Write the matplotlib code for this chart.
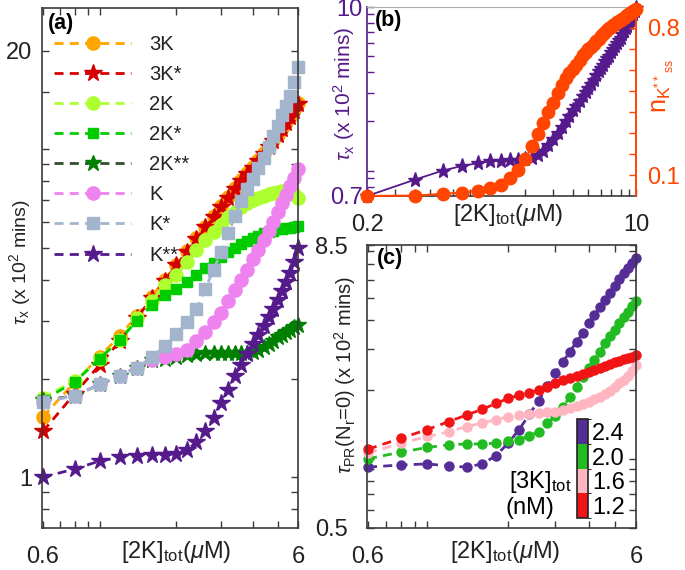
import matplotlib
matplotlib.use('Agg')
import matplotlib.pyplot as plt
import matplotlib as mpl
from matplotlib.colors import ListedColormap, BoundaryNorm
from matplotlib.ticker import FixedLocator, FixedFormatter, NullLocator

plt.rcParams['font.family'] = ['Liberation Sans', 'DejaVu Sans']
plt.rcParams['mathtext.fontset'] = 'custom'
plt.rcParams['mathtext.rm'] = 'Liberation Sans'
plt.rcParams['mathtext.it'] = 'Liberation Sans:italic'
plt.rcParams['mathtext.bf'] = 'Liberation Sans:bold'
plt.rcParams['lines.scale_dashes'] = False

# ---------------- data ----------------
# panel (a)
x_a = [0.6, 0.8, 1.0, 1.2, 1.4, 1.6, 1.8, 2.0, 2.2, 2.4, 2.6, 2.8, 3.0, 3.2,
       3.4, 3.6, 3.8, 4.0, 4.2, 4.4, 4.6, 4.8, 5.0, 5.2, 5.4, 5.6, 5.8, 6.0]
tau_3K = [1.53, 1.95, 2.33, 2.70, 3.10, 3.55, 4.00, 4.45, 4.90, 5.35, 5.80, 6.25, 6.70, 7.15,
          7.60, 8.05, 8.45, 8.85, 9.30, 9.75, 10.2, 10.7, 11.1, 11.6, 12.1, 12.6, 13.2, 13.9]
tau_3Ks = [1.38, 1.80, 2.20, 2.60, 3.05, 3.52, 3.98, 4.43, 4.88, 5.33, 5.78, 6.22, 6.66, 7.10,
           7.55, 8.00, 8.40, 8.80, 9.25, 9.70, 10.15, 10.6, 11.05, 11.55, 12.05, 12.55, 13.1, 13.8]
tau_2K = [1.75, 1.97, 2.30, 2.62, 3.05, 3.45, 3.85, 4.15, 4.55, 4.95, 5.30, 5.60, 5.90, 6.20,
          6.45, 6.65, 6.85, 7.00, 7.10, 7.20, 7.30, 7.35, 7.40, 7.45, 7.45, 7.40, 7.30, 7.10]
tau_2Ks = [1.72, 1.95, 2.30, 2.62, 3.00, 3.35, 3.60, 3.75, 3.95, 4.15, 4.35, 4.50, 4.70, 4.85,
           5.00, 5.15, 5.25, 5.35, 5.45, 5.55, 5.60, 5.65, 5.70, 5.72, 5.75, 5.77, 5.80, 5.82]
tau_2Kss = [1.72, 1.77, 1.92, 2.04, 2.16, 2.28, 2.30, 2.33, 2.36, 2.38, 2.39, 2.39, 2.39, 2.39,
            2.39, 2.39, 2.40, 2.41, 2.44, 2.49, 2.55, 2.61, 2.67, 2.72, 2.77, 2.82, 2.87, 2.92]
tau_K = [1.70, 1.77, 1.92, 2.04, 2.16, 2.28, 2.32, 2.37, 2.45, 2.60, 2.77, 2.97, 3.18, 3.45,
         3.72, 4.00, 4.30, 4.62, 4.95, 5.30, 5.65, 6.02, 6.42, 6.84, 7.28, 7.74, 8.20, 8.70]
tau_Ks = [1.70, 1.77, 1.92, 2.04, 2.16, 2.32, 2.51, 2.73, 2.97, 3.25, 3.75, 4.30, 4.85, 5.55,
          6.25, 6.95, 7.55, 8.15, 8.75, 9.40, 10.2, 11.0, 11.8, 12.7, 13.6, 14.6, 16.0, 17.8]
tau_Kss = [1.00, 1.06, 1.12, 1.15, 1.16, 1.17, 1.17, 1.18, 1.21, 1.28, 1.38, 1.52, 1.68, 1.85,
           2.03, 2.20, 2.38, 2.55, 2.72, 2.90, 3.08, 3.27, 3.47, 3.70, 3.95, 4.20, 4.55, 5.00]
labels_a = ['3K', '3K*', '2K', '2K*', '2K**', 'K', 'K*', 'K**']

# panel (b)
x_b = [0.2, 0.4, 0.6, 0.8, 1.0, 1.2, 1.4, 1.6, 1.8, 2.0, 2.2, 2.4, 2.6, 2.8, 3.0, 3.2, 3.4,
       3.6, 3.8, 4.0, 4.2, 4.4, 4.6, 4.8, 5.0, 5.2, 5.4, 5.6, 5.8, 6.0, 6.2, 6.4, 6.6, 6.8,
       7.0, 7.2, 7.4, 7.6, 7.8, 8.0, 8.2, 8.4, 8.6, 8.8, 9.0, 9.2, 9.4, 9.6, 9.8, 10.0]
tau_b = [0.70, 0.88, 1.00, 1.07, 1.11, 1.14, 1.15, 1.16, 1.16, 1.17, 1.19, 1.24, 1.32, 1.43,
         1.56, 1.70, 1.85, 2.00, 2.17, 2.35, 2.50, 2.68, 2.85, 3.02, 3.20, 3.40, 3.60, 3.85,
         4.05, 4.25, 4.45, 4.65, 4.85, 5.05, 5.30, 5.50, 5.75, 6.00, 6.25, 6.50, 6.80, 7.10,
         7.40, 7.70, 8.00, 8.35, 8.70, 9.10, 9.50, 9.90]
n_b = [0.0, 0.002, 0.01, 0.016, 0.025, 0.036, 0.052, 0.085, 0.125, 0.175, 0.24, 0.295, 0.35,
       0.40, 0.445, 0.49, 0.53, 0.56, 0.585, 0.605, 0.625, 0.65, 0.67, 0.685, 0.70, 0.71,
       0.725, 0.74, 0.75, 0.76, 0.77, 0.78, 0.79, 0.80, 0.805, 0.814, 0.82, 0.83, 0.835,
       0.84, 0.845, 0.85, 0.855, 0.86, 0.865, 0.87, 0.875, 0.88, 0.885, 0.89]

# panel (c)
x_c = x_a
levels_c = [1.2, 1.6, 2.0, 2.4]
tau_c_12 = [1.10, 1.23, 1.34, 1.45, 1.55, 1.64, 1.74, 1.83, 1.89, 1.94, 1.99, 2.06, 2.13, 2.19,
            2.24, 2.29, 2.34, 2.39, 2.43, 2.49, 2.54, 2.58, 2.63, 2.67, 2.71, 2.73, 2.78, 2.83]
tau_c_16 = [1.06, 1.17, 1.25, 1.31, 1.38, 1.43, 1.48, 1.52, 1.55, 1.57, 1.58, 1.59, 1.60, 1.63,
            1.66, 1.70, 1.73, 1.77, 1.81, 1.86, 1.91, 1.98, 2.05, 2.13, 2.20, 2.30, 2.41, 2.56]
tau_c_20 = [1.00, 1.07, 1.12, 1.15, 1.16, 1.16, 1.17, 1.19, 1.21, 1.26, 1.31, 1.43, 1.54, 1.68,
            1.86, 2.06, 2.27, 2.49, 2.69, 2.92, 3.18, 3.42, 3.63, 3.88, 4.12, 4.36, 4.61, 4.87]
tau_c_24 = [0.92, 0.94, 0.95, 0.93, 0.92, 0.95, 1.03, 1.17, 1.34, 1.56, 1.79, 2.07, 2.35, 2.64,
            2.92, 3.23, 3.51, 3.88, 4.22, 4.56, 4.90, 5.27, 5.65, 6.03, 6.40, 6.77, 7.12, 7.44]

# ---------------- styling ----------------
W, H = 685, 570
fig = plt.figure(figsize=(W / 100, H / 100), dpi=100)

def fx(px):
    return px / W

def fy(py):
    return 1 - py / H

spine_col = '#3a3a3a'
txt_col = '#222222'
purple = '#551A8B'
orangered = '#FF4500'
DASH = (0, (6.5, 4.5))
FS_TICK = 17
FS_LAB = 17

def style_axes(ax):
    for s in ax.spines.values():
        s.set_color(spine_col)
        s.set_linewidth(1.2)

def set_ticks(axis, ticks, labeled):
    axis.set_major_locator(FixedLocator(ticks))
    axis.set_major_formatter(FixedFormatter([labeled.get(t, '') for t in ticks]))
    axis.set_minor_locator(NullLocator())

xlab = r'[2K]$_{\rm tot}$($\mu$M)'

# ---------------- panel (a) ----------------
axA = fig.add_axes([fx(42), fy(528), fx(256), 520 / H])
style_axes(axA)
series_a = [tau_3K, tau_3Ks, tau_2K, tau_2Ks, tau_2Kss, tau_K, tau_Ks, tau_Kss]
colors_a = ['#FFA500', '#D40000', '#ADFF2F', '#00CD00', '#008000', '#EE82EE', '#A2B5CD', purple]
line_cols = ['#FFA500', '#D40000', '#ADFF2F', '#00CD00', '#2F4F2F', '#EE82EE', '#A2B5CD', purple]
markers_a = ['o', '*', 'o', 's', '*', 'o', 's', '*']
msizes_a = [9.5, 13, 9.5, 7.5, 12, 9.5, 8.5, 13]
for y, lab, m, mc, lc, ms in zip(series_a, labels_a, markers_a, colors_a, line_cols, msizes_a):
    axA.plot(x_a, y, ls=DASH, lw=2, color=lc, marker=m, ms=ms, mfc=mc, mec=mc, label=lab,
             clip_on=False)
axA.set_xscale('log')
axA.set_yscale('log')
axA.set_xlim(0.595, 6.0)
axA.set_ylim(0.7, 27)
xt = [0.6, 0.7, 0.8, 0.9, 1, 2, 3, 4, 5, 6]
set_ticks(axA.xaxis, xt, {0.6: '0.6', 6: '6'})
yt = [0.8, 0.9, 1, 2, 3, 4, 5, 6, 7, 8, 9, 10, 15, 20]
set_ticks(axA.yaxis, yt, {1: '1', 20: '20'})
axA.tick_params(axis='both', which='both', direction='in', length=5, width=1,
                top=True, right=True, labelsize=FS_TICK, colors=spine_col, labelcolor=txt_col)
axA.tick_params(axis='x', pad=13)
axA.tick_params(axis='y', pad=7)
leg = axA.legend(loc='upper left', bbox_to_anchor=(0.048, 0.948), frameon=False,
                 fontsize=14.5, handlelength=3.8, handletextpad=0.9, labelspacing=0.55,
                 borderaxespad=0, borderpad=0)
for t in leg.get_texts():
    t.set_color(txt_col)
axA.text(0.022, 0.99, '(a)', transform=axA.transAxes, fontsize=15.5, fontweight='bold',
         va='top', ha='left')
fig.text(fx(176), fy(552), xlab, fontsize=FS_LAB, ha='center', va='center', color=txt_col)
fig.text(fx(20), fy(262), r'$\tau_{\rm x}$ (x 10$^2$ mins)', fontsize=14, rotation=90,
         ha='center', va='center', color=txt_col)

# ---------------- panel (b) ----------------
axB = fig.add_axes([fx(367), fy(196), fx(269), 189 / H])
style_axes(axB)
axB.spines['top'].set_color('#b0b0b0')
axB.spines['top'].set_linewidth(0.8)
axB.spines['left'].set_color(purple)
axB.spines['right'].set_color(orangered)
axB.plot(x_b, tau_b, '-', lw=1.3, color=purple, marker='*', ms=11, mfc=purple, mec=purple,
         clip_on=False)
axB.set_xscale('log')
axB.set_yscale('log')
axB.set_xlim(0.2, 10)
axB.set_ylim(0.7, 10)
xtb = [0.2, 0.3, 0.4, 0.5, 0.6, 0.7, 0.8, 0.9, 1, 2, 3, 4, 5, 6, 7, 8, 9, 10]
set_ticks(axB.xaxis, xtb, {0.2: '0.2', 10: '10'})
ytb = [0.7, 0.8, 0.9, 1, 2, 3, 4, 5, 6, 7, 8, 9, 10]
set_ticks(axB.yaxis, ytb, {0.7: '0.7', 10: '10'})
axB.tick_params(axis='x', direction='in', length=5, width=1, top=False, labelsize=FS_TICK,
                colors=spine_col, labelcolor=txt_col, pad=13)
axB.tick_params(axis='y', direction='in', length=5, width=1, right=False, labelsize=FS_TICK,
                colors=purple, pad=3)
axB2 = axB.twinx()
axB2.spines['right'].set_color(orangered)
axB2.spines['right'].set_linewidth(1.2)
axB2.spines['left'].set_visible(False)
axB2.spines['top'].set_visible(False)
axB2.spines['bottom'].set_visible(False)
axB2.plot(x_b, n_b, '-', lw=1.5, color=orangered, marker='o', ms=9, mfc=orangered,
          mec=orangered, clip_on=False)
axB2.set_ylim(0, 0.9)
ytr = [0.1, 0.2, 0.3, 0.4, 0.5, 0.6, 0.7, 0.8]
axB2.yaxis.set_major_locator(FixedLocator(ytr))
axB2.yaxis.set_major_formatter(FixedFormatter(['0.1', '', '', '', '', '', '', '0.8']))
axB2.tick_params(axis='y', direction='in', length=5, width=1, labelsize=FS_TICK,
                 colors=orangered, pad=8)
axB.text(0.03, 0.985, '(b)', transform=axB.transAxes, fontsize=15.5, fontweight='bold',
         va='top', ha='left')
fig.text(fx(508), fy(215), xlab, fontsize=FS_LAB, ha='center', va='center', color=txt_col)
fig.text(fx(344), fy(94), r'$\tau_{\rm x}$ (x 10$^2$ mins)', fontsize=15, rotation=90,
         ha='center', va='center', color=purple)
fig.text(fx(663), fy(86), r'n$_{\mathrm{K}^{**}{}_{\rm ss}}$', fontsize=18, rotation=90,
         ha='center', va='center', color=orangered)

# ---------------- panel (c) ----------------
axC = fig.add_axes([fx(367), fy(528), fx(269), 283 / H])
style_axes(axC)
cols_c = ['#F01414', '#FFB6C1', '#22BB22', '#552D96']
series_c = [tau_c_24, tau_c_20, tau_c_16, tau_c_12]
for y, c in zip(series_c, cols_c[::-1]):
    axC.plot(x_c, y, ls=DASH, lw=2, color=c, marker='o', ms=6.5, mfc=c, mec=c, clip_on=False)
axC.set_xscale('log')
axC.set_yscale('log')
axC.set_xlim(0.595, 6.0)
axC.set_ylim(0.5, 8.5)
set_ticks(axC.xaxis, xt, {0.6: '0.6', 6: '6'})
ytc = [0.5, 0.6, 0.7, 0.8, 0.9, 1, 2, 3, 4, 5, 6, 7, 8, 8.5]
set_ticks(axC.yaxis, ytc, {0.5: '0.5', 8.5: '8.5'})
axC.tick_params(axis='both', which='both', direction='in', length=5, width=1,
                top=True, right=True, labelsize=FS_TICK, colors=spine_col, labelcolor=txt_col)
axC.tick_params(axis='x', pad=13)
axC.tick_params(axis='y', pad=14)
axC.text(0.037, 0.99, '(c)', transform=axC.transAxes, fontsize=15.5, fontweight='bold',
         va='top', ha='left')
fig.text(fx(505), fy(552), xlab, fontsize=FS_LAB, ha='center', va='center', color=txt_col)
fig.text(fx(345), fy(375), r'$\tau_{\rm PR}$(N$_{\rm r}$=0) (x 10$^2$ mins)', fontsize=14.5,
         rotation=90, ha='center', va='center', color=txt_col)

# colorbar
cax = fig.add_axes([fx(577), fy(518), fx(11), 99 / H])
cmap = ListedColormap(cols_c)
bounds = [1.0, 1.4, 1.8, 2.2, 2.6]
norm = BoundaryNorm(bounds, cmap.N)
cb = fig.colorbar(mpl.cm.ScalarMappable(norm=norm, cmap=cmap), cax=cax, ticks=levels_c)
cb.set_ticklabels(['%.1f' % v for v in levels_c])
cb.ax.tick_params(length=0, labelsize=FS_TICK, pad=3)
cb.outline.set_linewidth(1.2)
cb.outline.set_edgecolor(txt_col)
fig.text(fx(540), fy(482), r'[3K]$_{\rm tot}$', fontsize=FS_LAB, ha='center', va='center')
fig.text(fx(530), fy(508), '(nM)', fontsize=FS_LAB, ha='center', va='center')

fig.savefig('out.png', dpi=100)
